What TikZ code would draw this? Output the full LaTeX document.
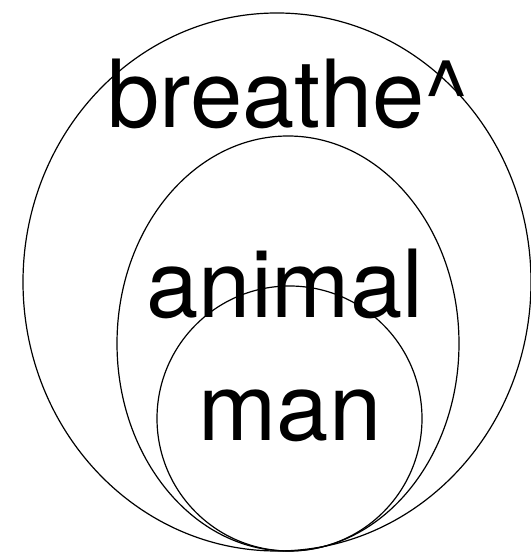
\documentclass[tikz,border=0pt]{standalone}
\usepackage{fontspec}
\setmainfont{TeX Gyre Heros}
\begin{document}
\begin{tikzpicture}[x=1pt,y=1pt,
  ring/.style={draw=black,line width=1.2pt},
  lbl/.style={anchor=base,inner sep=0pt,font=\fontsize{94}{100}\selectfont}]
\useasboundingbox (0,0) rectangle (530,554);
\draw[ring] (277,272) ellipse [x radius=254, y radius=269];
\draw[ring] (288,210.5) ellipse [x radius=171, y radius=207.5];
\draw[ring] (289.5,135.5) ellipse [x radius=132.5, y radius=132.5];
\node[lbl] (breathe) at (288,426) {breathe\textasciicircum};
\node[lbl] (animal) at (285,236) {animal};
\node[lbl] (man) at (290,113) {man};
\end{tikzpicture}
\end{document}
